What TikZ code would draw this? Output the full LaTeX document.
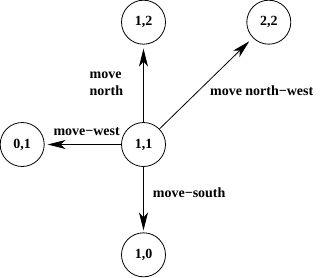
\documentclass[tikz,border=0pt]{standalone}
\usepackage{fontspec}
\setmainfont{Liberation Serif}
\usetikzlibrary{arrows.meta,positioning}

\begin{document}
\begin{tikzpicture}[
    node distance=77pt,
    state/.style={draw, circle, line width=0.8pt, minimum size=44pt, inner sep=0pt, font=\fontsize{14}{16}\selectfont\bfseries},
    arrow/.style={-{Stealth[length=18pt, width=9pt, inset=5pt]}, line width=0.8pt, shorten >=4pt},
    lbl/.style={font=\fontsize{14}{17}\selectfont\bfseries, inner sep=0pt}
]
\useasboundingbox (-143.5pt,-132.5pt) rectangle (176.5pt,144.5pt);
\node[state] (s11) {1,1};
\node[state, above=77.5pt of s11] (s12) {1,2};
\node[state, left=76.5pt of s11] (s01) {0,1};
\node[state, below=65.5pt of s11] (s10) {1,0};
\node[state, right=80.5pt of s12] (s22) {2,2};

\draw[arrow] (s11) -- node[lbl, midway, left=20pt, align=left] {move\\north} (s12);
\draw[arrow, shorten >=3pt] (s11) -- node[lbl, pos=0.45, above=8pt] {move−west} (s01);
\draw[arrow, shorten >=2pt] (s11) -- node[lbl, pos=0.4, right=9pt] {move−south} (s10);
\draw[arrow, shorten >=5pt] (s11) -- node[lbl, pos=0.42, right=11pt] {move north−west} (s22);
\end{tikzpicture}
\end{document}
